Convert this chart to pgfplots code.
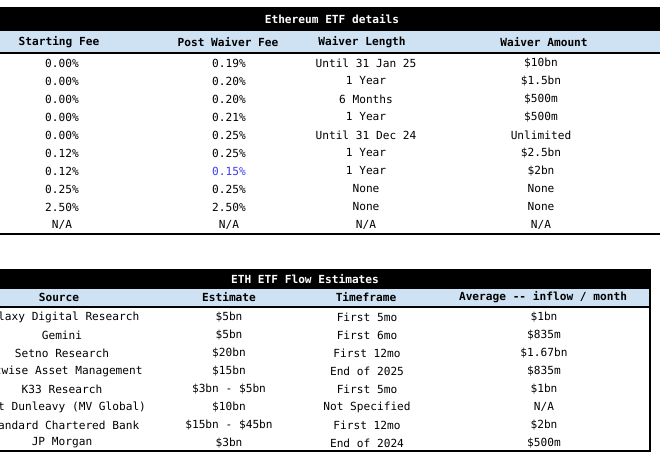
\documentclass[border=0pt]{standalone}
\usepackage{pgfplots}
\usepackage{pgfplotstable}
\pgfplotsset{compat=1.18}
\usepackage{fontspec}
\setmainfont{DejaVu Sans}
\newfontfamily\mono{DejaVu Sans Mono}
\definecolor{hdrblue}{HTML}{CFE2F3}
\definecolor{valblue}{HTML}{3D3DF0}

% table 1: Ethereum ETF details (y = row centre, in pixels from top)
\pgfplotstableread[col sep=semicolon]{
y;a;b;c;d
63;0.00\%;0.19\%;Until 31 Jan 25;\$10bn
81;0.00\%;0.20\%;1 Year;\$1.5bn
99;0.00\%;0.20\%;6 Months;\$500m
117;0.00\%;0.21\%;1 Year;\$500m
135;0.00\%;0.25\%;Until 31 Dec 24;Unlimited
153;0.12\%;0.25\%;1 Year;\$2.5bn
171;0.12\%;;1 Year;\$2bn
189;0.25\%;0.25\%;None;None
207;2.50\%;2.50\%;None;None
225;N/A;N/A;N/A;N/A
}\etfdetails

\pgfplotstableread[col sep=semicolon]{
y;b
171;0.15\%
}\etfblue

% table 2: ETH ETF flow estimates
\pgfplotstableread[col sep=semicolon]{
y;a;b;c;d
317;Galaxy Digital Research;\$5bn;First 5mo;\$1bn
335;Gemini;\$5bn;First 6mo;\$835m
353;Setno Research;\$20bn;First 12mo;\$1.67bn
371;Bitwise Asset Management;\$15bn;End of 2025;\$835m
389;K33 Research;\$3bn - \$5bn;First 5mo;\$1bn
407;Matt Dunleavy (MV Global);\$10bn;Not Specified;N/A
425;Standard Chartered Bank;\$15bn - \$45bn;First 12mo;\$2bn
443;JP Morgan;\$3bn;End of 2024;\$500m
}\flows

\pgfplotsset{
  cell/.style={only marks, mark=none, nodes near coords, point meta=explicit symbolic,
    nodes near coords style={anchor=center, inner sep=0pt, font=\mono\fontsize{11.2}{13}\selectfont}},
}

\begin{document}
\begin{tikzpicture}
\begin{axis}[
  width=660bp, height=467bp, scale only axis,
  xmin=0, xmax=660, ymin=0, ymax=467, y dir=reverse,
  hide axis, clip=false]

% ---- table 1 ----
\fill[black] (0,7) rectangle (660,31);
\fill[hdrblue] (0,31) rectangle (660,52.5);
\draw[line width=2bp] (0,53) -- (660,53);
\draw[line width=2.2bp] (0,234) -- (660,234);
\node[text=white, font=\mono\bfseries\fontsize{11.2}{13}\selectfont] at (332,19) {Ethereum ETF details};
\begin{scope}[every node/.style={font=\mono\bfseries\fontsize{11.2}{13}\selectfont}]
\node at (59,42) {Starting Fee};
\node at (228,42) {Post Waiver Fee};
\node at (362,42) {Waiver Length};
\node at (544,42) {Waiver Amount};
\end{scope}
\addplot[cell] table[x expr=62, y=y, meta=a] {\etfdetails};
\addplot[cell] table[x expr=229, y=y, meta=b] {\etfdetails};
\addplot[cell, nodes near coords style={text=valblue}] table[x expr=229, y=y, meta=b] {\etfblue};
\addplot[cell] table[x expr=366, y=y, meta=c] {\etfdetails};
\addplot[cell] table[x expr=541, y=y, meta=d] {\etfdetails};

% ---- table 2 ----
\fill[black] (-40,269) rectangle (650,289);
\fill[hdrblue] (-40,289) rectangle (650,306);
\draw[line width=2bp] (-40,307) -- (650,307);
\draw[line width=2.2bp] (-40,451) -- (650,451) -- (650,269);
\node[text=white, font=\mono\bfseries\fontsize{11.2}{13}\selectfont] at (305,279) {ETH ETF Flow Estimates};
\begin{scope}[every node/.style={font=\mono\bfseries\fontsize{11.2}{13}\selectfont}]
\node at (59,297.5) {Source};
\node at (229,297.5) {Estimate};
\node at (366,297.5) {Timeframe};
\node at (543,297.5) {Average -- inflow / month};
\end{scope}
\addplot[cell] table[x expr=62, y=y, meta=a] {\flows};
\addplot[cell] table[x expr=229, y=y, meta=b] {\flows};
\addplot[cell] table[x expr=367, y=y, meta=c] {\flows};
\addplot[cell] table[x expr=544, y=y, meta=d] {\flows};
\end{axis}
\pgfresetboundingbox
\path (current axis.south west) rectangle (current axis.north east);
\end{tikzpicture}
\end{document}
